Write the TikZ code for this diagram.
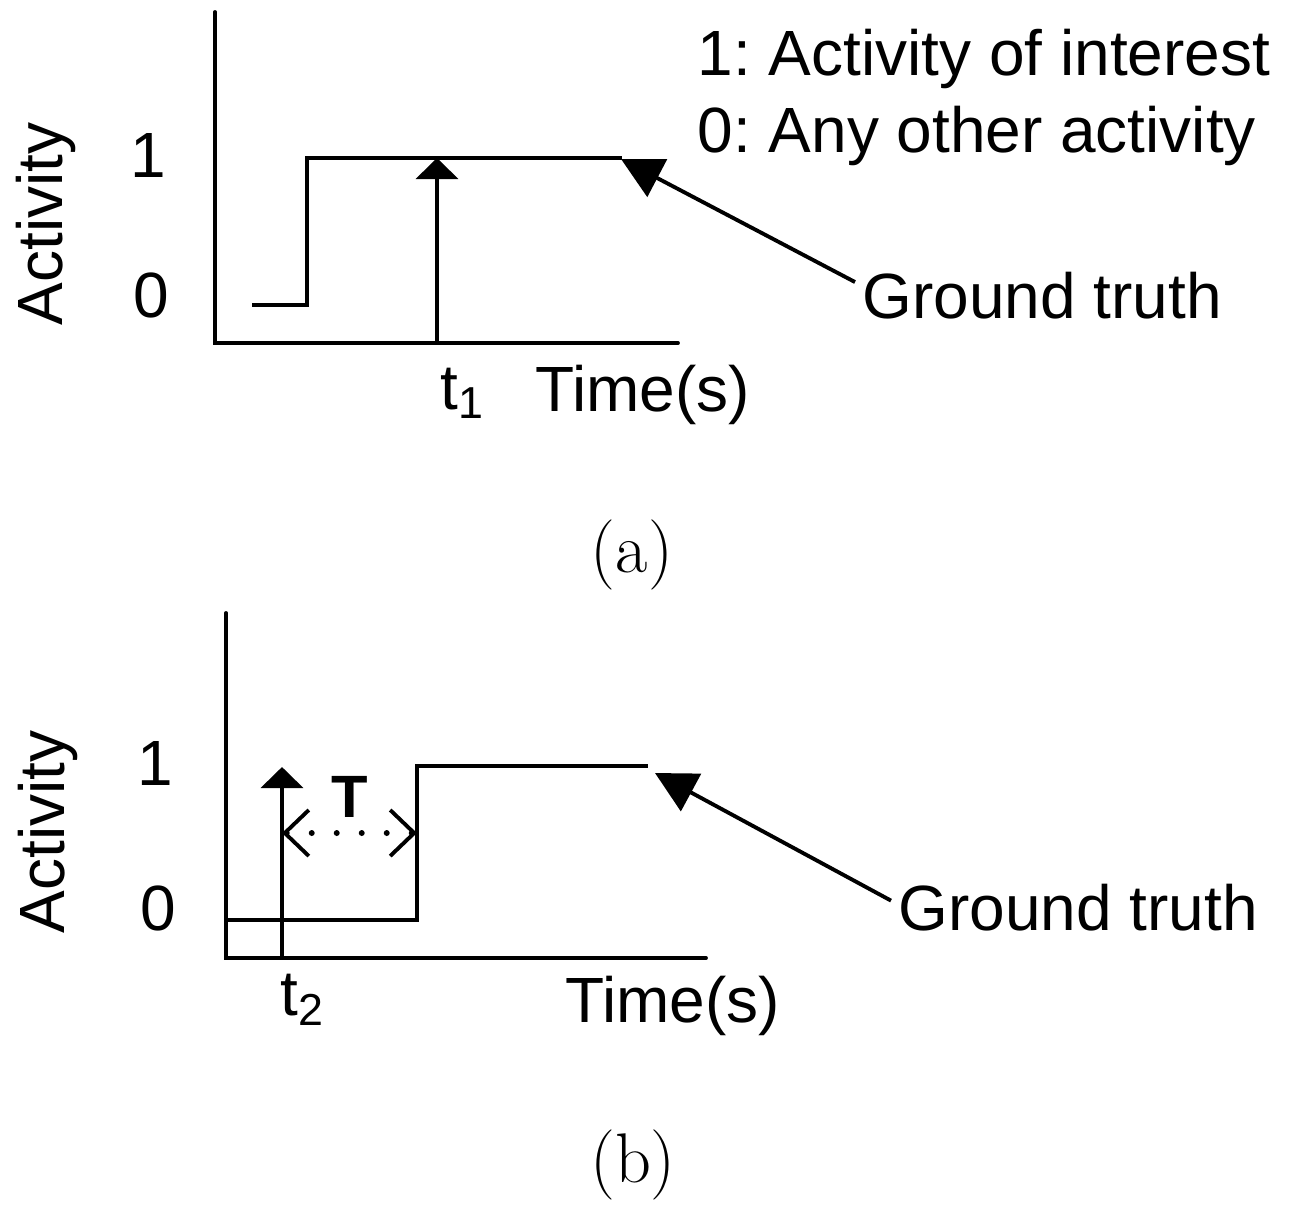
\documentclass[tikz,border=0pt]{standalone}
\usepackage{fontspec}
\newfontfamily\arialfont{Liberation Sans}
\usetikzlibrary{arrows.meta}

\begin{document}
\begin{tikzpicture}[
        x=0.1mm,
        y=-0.1mm,
        axis/.style={
            line width=1.1pt,
            line cap=round
        },
        signal/.style={
            line width=1.1pt
        },
        event/.style={
            line width=1.1pt,
            -{Triangle[length=2.1mm,width=4.2mm]}
        },
        gtarrow/.style={
            line width=1.1pt,
            -{Triangle[length=4.1mm,width=4.2mm]}
        },
        delay/.style={
            line width=1.7pt,
            line cap=round,
            dash pattern=on 0pt off 2.5mm,
            >={Straight Barb[length=2.4mm,width=4.6mm,line width=1.1pt]},
            <->
        },
        lbl/.style={
            inner sep=0pt,
            font=\arialfont\frenchspacing\fontsize{18.2}{22}\selectfont
        },
        caption/.style={
            inner sep=0pt,
            font=\fontsize{20}{24}\selectfont
        }
    ]

    \useasboundingbox (0,0) rectangle (1293,1208);

    % (a) Ejes
    \coordinate (oA) at (215,343);
    \draw[axis] (215,12) -- (oA) -- (678,343);

    % Verdad de referencia
    \coordinate (tipA) at (621,159);
    \draw[signal] (252,305) -- (307,305) -- (307,158) -- (622,158);

    % Evento en t1
    \coordinate (t1foot) at (437,343);
    \coordinate (t1head) at (437,158);
    \draw[event] (t1foot) -- (t1head);

    % Etiquetas
    \node[lbl,rotate=90,anchor=base] (ylabA) at (62,224) {Activity};
    \node[lbl] (oneA) at (148,155) {1};
    \node[lbl] (zeroA) at (151,295) {0};
    \node[lbl,anchor=base west] (t1lab) at (440,409) {t\textsubscript{1}};
    \node[lbl,anchor=base west] (timeA) at (535,411) {Time(s)};
    \node[lbl,anchor=base west] (keyOne) at (697,75) {1: Activity of interest};
    \node[lbl,anchor=base west] (keyZero) at (697,152) {0: Any other activity};

    \node[lbl,inner sep=0.7mm,anchor=base west] (gtA) at (855,318) {Ground truth};
    \draw[gtarrow] (gtA.176) -- (tipA);

    \node[caption,anchor=base] (capA) at (632,572) {(a)};

    % (b) Ejes
    \coordinate (oB) at (226,958);
    \draw[axis] (226,613) -- (oB) -- (706,958);

    % Verdad de referencia
    \coordinate (tipB) at (655,773);
    \coordinate (riseB) at (417,833);
    \draw[signal] (226,920) -- (417,920) -- (417,766) -- (648,766);

    % Evento en t2 y retardo T
    \coordinate (t2foot) at (282,958);
    \coordinate (t2head) at (282,767);
    \coordinate (t2mid) at (282,833);
    \draw[event] (t2foot) -- (t2head);
    \draw[delay] (t2mid) -- (riseB);
    \node[inner sep=0pt,font=\arialfont\bfseries\fontsize{17}{20}\selectfont]
        (tau) at (350,797) {T};

    % Etiquetas
    \node[lbl,rotate=90,anchor=base] (ylabB) at (64,832) {Activity};
    \node[lbl] (oneB) at (155,763) {1};
    \node[lbl] (zeroB) at (158,908) {0};
    \node[lbl,anchor=base west] (t2lab) at (280,1015) {t\textsubscript{2}};
    \node[lbl,anchor=base west] (timeB) at (565,1022) {Time(s)};

    \node[lbl,inner sep=0.7mm,anchor=base west] (gtB) at (891,930) {Ground truth};
    \draw[gtarrow] (gtB.178.5) -- (tipB);

    \node[caption,anchor=base] (capB) at (633,1182) {(b)};

\end{tikzpicture}
\end{document}
